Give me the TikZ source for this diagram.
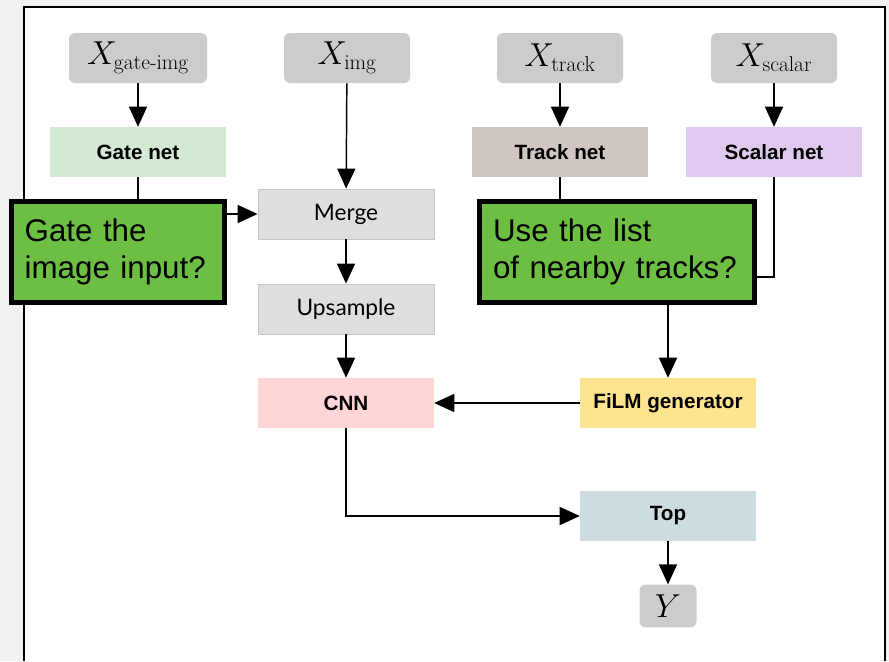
\documentclass[tikz,border=0pt]{standalone}
\usepackage{amsmath}
\usepackage{fontspec}
\newfontfamily\helv{Liberation Sans}
\newfontfamily\lato{Lato}
\usetikzlibrary{arrows.meta}

\definecolor{ingray}{HTML}{CCCCCC}
\definecolor{gatecol}{HTML}{D5E8D4}
\definecolor{trackcol}{HTML}{CFC7C0}
\definecolor{scalarcol}{HTML}{E0C9EE}
\definecolor{opgray}{HTML}{DEDEDE}
\definecolor{opedge}{HTML}{C6C6C6}
\definecolor{cnncol}{HTML}{FFD5D6}
\definecolor{filmcol}{HTML}{FFE48F}
\definecolor{topcol}{HTML}{CCDCE1}
\definecolor{askgreen}{HTML}{6DBF43}
\definecolor{outside}{HTML}{F1F1F1}

\tikzset{
  inbox/.style={fill=ingray, rounded corners=4.5pt, minimum width=94.5pt,
    minimum height=37.5pt, font=\fontsize{23}{26}\selectfont},
  netbox/.style={minimum width=132pt, minimum height=37.5pt,
    font=\helv\bfseries\fontsize{15.5}{18}\selectfont},
  opbox/.style={netbox, fill=opgray, draw=opedge, line width=0.6pt,
    font=\lato\fontsize{17}{19}\selectfont},
  askbox/.style={fill=askgreen, draw=black, line width=3.5pt, inner xsep=10pt,
    minimum height=76pt, align=left, font=\helv\fontsize{23.5}{28}\selectfont},
  flow/.style={-{Triangle[length=15pt,width=13.5pt]}, line width=1.1pt}
}

\begin{document}
\begin{tikzpicture}[x=0.75pt, y=-0.75pt]
  \useasboundingbox (0,0) rectangle (889,661);
  \fill[outside] (0,0) rectangle (889,661);
  \fill[white] (24,7) rectangle (885,661);
  \draw[line width=2pt] (24,661) |- (885,7) -- (885,661);

  % inputs
  \node[inbox, minimum width=103.5pt] (xgate) at (138,58) {$X_{\text{gate-img}}$};
  \node[inbox] (ximg) at (347,58) {$X_{\text{img}}$};
  \node[inbox] (xtrack) at (560,58) {$X_{\text{track}}$};
  \node[inbox] (xscalar) at (774,58) {$X_{\text{scalar}}$};

  % sub-networks
  \node[netbox, fill=gatecol] (gatenet) at (138,152) {Gate net};
  \node[netbox, fill=trackcol] (tracknet) at (560,152) {Track net};
  \node[netbox, fill=scalarcol] (scalarnet) at (774,152) {Scalar net};
  \node[opbox] (merge) at (346,214) {Merge};
  \node[opbox] (upsample) at (346,309) {Upsample};
  \node[netbox, fill=cnncol] (cnn) at (346,403) {CNN};
  \node[netbox, fill=filmcol] (film) at (668,403) {FiLM generator};
  \node[netbox, fill=topcol] (top) at (668,516) {Top};
  \node[inbox, minimum width=42.75pt, minimum height=32pt] (y) at (668,606) {$Y$};
  \coordinate (join) at (668,277);

  \begin{scope}[flow]
    \draw (xgate) to (gatenet);
    \draw (ximg) to (merge);
    \draw (xtrack) to (tracknet);
    \draw (xscalar) to (scalarnet);
    \draw (gatenet) |- (merge);
    \draw (merge) to (upsample);
    \draw (upsample) to (cnn);
    \draw[-] (tracknet) |- (join);
    \draw (scalarnet) |- (join) -- (film);
    \draw (film) to (cnn);
    \draw (cnn) |- (top);
    \draw (top) to (y);
  \end{scope}

  % questions on top
  \node[askbox, minimum width=160pt, text width=140pt] (askgate) at (118,252) {Gate the\\image input?};
  \node[askbox, minimum width=206pt, text width=186pt] (asktrack) at (617,252) {Use the list\\of nearby tracks?};
\end{tikzpicture}
\end{document}
